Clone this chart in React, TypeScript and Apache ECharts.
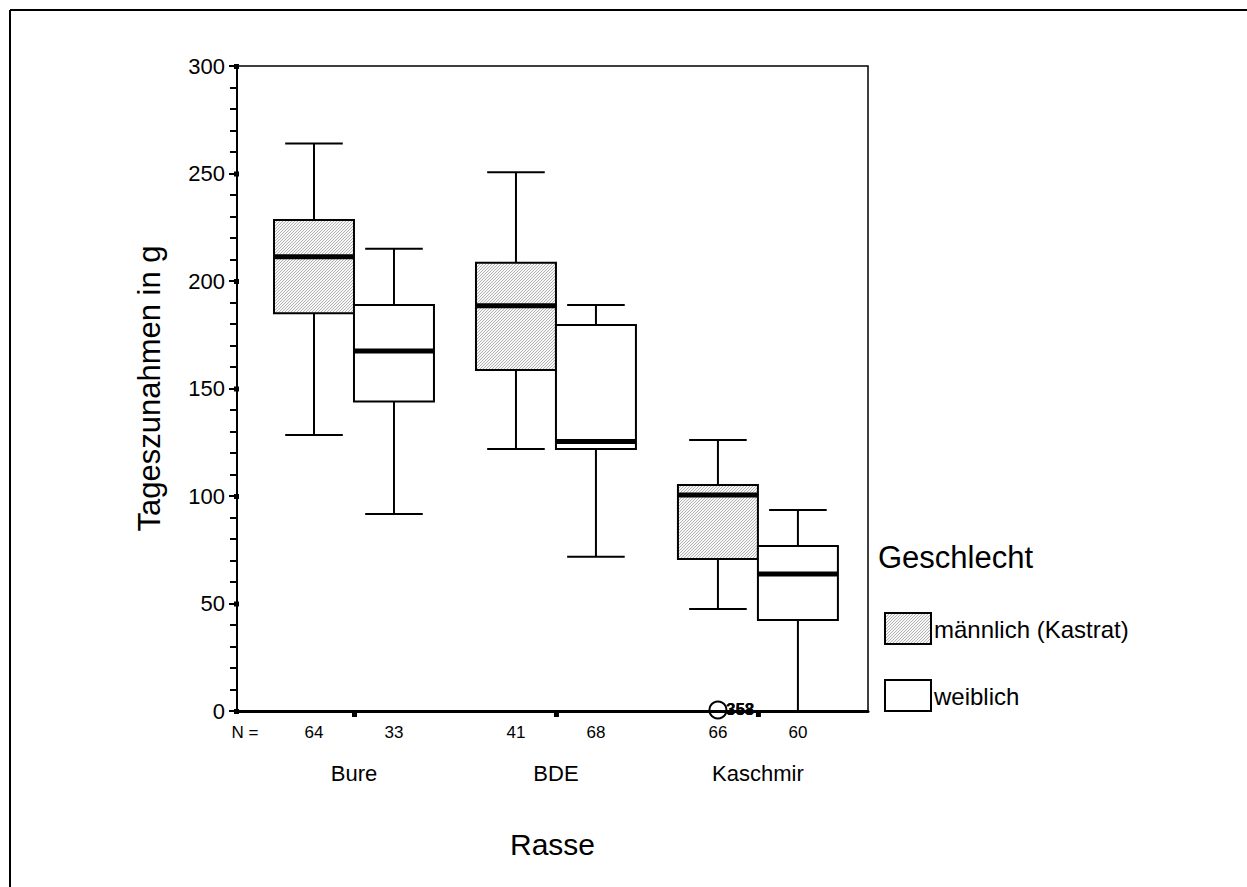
import React, { useEffect, useRef } from "react";
import * as echarts from "echarts";

const categories = ["Bure", "BDE", "Kaschmir"];
const groupNames = ["männlich (Kastrat)", "weiblich"];
// [lower whisker, Q1, median, Q3, upper whisker]
const maleStats = [
  [128.4, 185.0, 211.3, 228.4, 264.0],
  [121.9, 158.6, 188.5, 208.5, 250.6],
  [47.4, 70.7, 100.5, 105.1, 126.0],
];
const femaleStats = [
  [91.6, 143.9, 167.4, 188.8, 215.0],
  [71.8, 121.9, 125.3, 179.5, 188.8],
  [0, 42.3, 63.7, 76.7, 93.5],
];
const maleN = [64, 41, 66];
const femaleN = [33, 68, 60];
const outlierCategory = [2];
const outlierGroup = [0];
const outlierValues = [0];
const outlierLabels = [["358", "353"]];
const yTickValues = [0, 50, 100, 150, 200, 250, 300];
const yMin = 0;
const yMax = 300;
const yInterval = 50;
const xTitle = "Rasse";
const yTitle = "Tageszunahmen in g";
const legendTitle = "Geschlecht";
const nLabel = "N =";

const FONT = '"Liberation Sans", Arial, Helvetica, sans-serif';
const BOX_W = 0.396;

function makeHatch() {
  const c = document.createElement("canvas");
  c.width = 3;
  c.height = 3;
  const ctx = c.getContext("2d")!;
  ctx.fillStyle = "#f6f6f6";
  ctx.fillRect(0, 0, 3, 3);
  ctx.fillStyle = "#b4b4b4";
  for (let i = 0; i < 3; i++) ctx.fillRect(i, 2 - i, 1, 1);
  return c;
}

function txt(text: string, x: number, y: number, size: number, align: string, valign: string, weight = "normal") {
  return {
    type: "text",
    x,
    y,
    silent: true,
    style: {
      text,
      x: 0,
      y: 0,
      font: `${weight} ${size}px ${FONT}`,
      fill: "#000",
      align,
      verticalAlign: valign,
      textAlign: align,
      textVerticalAlign: valign,
    },
  };
}

export default function App() {
  const ref = useRef<HTMLDivElement>(null);
  useEffect(() => {
    if (!ref.current) return;
    const chart = echarts.init(ref.current, null, { renderer: "svg" });
    const hatch = { image: makeHatch(), repeat: "repeat", imageWidth: 3, imageHeight: 3 };

    const boxRender = (groupIdx: number, fill: any) => (params: any, api: any) => {
      const xc = api.value(0) + (groupIdx === 0 ? -BOX_W / 2 : BOX_W / 2);
      const left = api.coord([xc - BOX_W / 2, 0])[0];
      const right = api.coord([xc + BOX_W / 2, 0])[0];
      const cx = (left + right) / 2;
      const capHalf = (right - left) * 0.36;
      const y = (v: number) => api.coord([xc, v])[1];
      const lo = y(api.value(1));
      const q1 = y(api.value(2));
      const med = y(api.value(3));
      const q3 = y(api.value(4));
      const hi = y(api.value(5));
      const axisY = y(yMin);
      const ls = { stroke: "#000", lineWidth: 2 };
      const children: any[] = [
        { type: "line", shape: { x1: cx, y1: hi, x2: cx, y2: q3 }, style: ls },
        { type: "line", shape: { x1: cx, y1: q1, x2: cx, y2: lo }, style: ls },
        { type: "line", shape: { x1: cx - capHalf, y1: hi, x2: cx + capHalf, y2: hi }, style: ls },
        { type: "line", shape: { x1: cx - capHalf, y1: lo, x2: cx + capHalf, y2: lo }, style: ls },
        {
          type: "rect",
          shape: { x: left, y: q3, width: right - left, height: q1 - q3 },
          style: { fill, stroke: "#000", lineWidth: 2 },
        },
        { type: "line", shape: { x1: left, y1: med, x2: right, y2: med }, style: { stroke: "#000", lineWidth: 5 } },
        txt(String(api.value(6)), cx, axisY + 21, 17, "center", "middle"),
      ];
      return { type: "group", children };
    };

    const maleData = categories.map((_, i) => [i + 1, ...maleStats[i], maleN[i]]);
    const femaleData = categories.map((_, i) => [i + 1, ...femaleStats[i], femaleN[i]]);
    const catData = categories.map((c, i) => [i + 1, c]);
    const outData = outlierValues.map((v, i) => [outlierCategory[i] + 1, v, outlierGroup[i], i]);

    chart.setOption({
      animation: false,
      textStyle: { fontFamily: FONT, color: "#000" },
      grid: {
        left: 237,
        top: 66,
        width: 631,
        height: 645,
        show: true,
        borderColor: "#000",
        borderWidth: 1.5,
        backgroundColor: "transparent",
      },
      xAxis: {
        type: "value",
        min: 0.4208,
        max: 3.545,
        axisLine: { show: true, onZero: false, lineStyle: { color: "#000", width: 3 } },
        axisTick: { show: false },
        axisLabel: { show: false },
        splitLine: { show: false },
        name: xTitle,
        nameLocation: "middle",
        nameGap: 118,
        nameTextStyle: { fontSize: 30, color: "#000", fontFamily: FONT },
      },
      yAxis: {
        type: "value",
        min: yMin,
        max: yMax,
        interval: yInterval,
        axisLine: { show: true, lineStyle: { color: "#000", width: 2 } },
        axisTick: { show: true, inside: false, length: 8, lineStyle: { color: "#000", width: 2 } },
        minorTick: { show: true, splitNumber: 5, length: 7, lineStyle: { color: "#000", width: 2 } },
        axisLabel: { fontSize: 22, color: "#000", margin: 12, fontFamily: FONT },
        splitLine: { show: false },
        name: yTitle,
        nameLocation: "middle",
        nameRotate: 90,
        nameGap: 72,
        nameTextStyle: { fontSize: 31, color: "#000", fontFamily: FONT },
      },
      series: [
        {
          type: "custom",
          name: groupNames[0],
          coordinateSystem: "cartesian2d",
          renderItem: boxRender(0, hatch),
          data: maleData,
          clip: false,
          z: 3,
        },
        {
          type: "custom",
          name: groupNames[1],
          coordinateSystem: "cartesian2d",
          renderItem: boxRender(1, "#fff"),
          data: femaleData,
          clip: false,
          z: 3,
        },
        {
          type: "custom",
          coordinateSystem: "cartesian2d",
          clip: false,
          z: 4,
          data: catData,
          renderItem: (params: any, api: any) => {
            const p = api.coord([api.value(0), yMin]);
            return {
              type: "group",
              children: [
                { type: "rect", shape: { x: p[0] - 2, y: p[1] + 1, width: 5, height: 5 }, style: { fill: "#000" } },
                txt(categories[params.dataIndex], p[0], p[1] + 62, 22, "center", "middle"),
              ],
            };
          },
        },
        {
          type: "custom",
          coordinateSystem: "cartesian2d",
          clip: false,
          z: 5,
          data: outData,
          renderItem: (params: any, api: any) => {
            const g = api.value(2);
            const xc = api.value(0) + (g === 0 ? -BOX_W / 2 : BOX_W / 2);
            const p = api.coord([xc, api.value(1)]);
            const labs = outlierLabels[api.value(3)];
            return {
              type: "group",
              children: [
                { type: "circle", shape: { cx: p[0], cy: p[1] - 1, r: 8.5 }, style: { fill: "none", stroke: "#000", lineWidth: 2 } },
                ...labs.map((l: string) => txt(l, p[0] + 8, p[1] - 2, 17, "left", "middle", "bold")),
              ],
            };
          },
        },
        {
          type: "custom",
          coordinateSystem: "cartesian2d",
          clip: false,
          z: 5,
          data: yTickValues.map((v) => [0.4208, v]),
          renderItem: (params: any, api: any) => {
            const p = api.coord([api.value(0), api.value(1)]);
            return { type: "rect", shape: { x: p[0] - 3, y: p[1] - 2, width: 5, height: 5 }, style: { fill: "#000" } };
          },
        },
      ],
      graphic: [
        { type: "line", shape: { x1: 10, y1: 10, x2: 1247, y2: 10 }, style: { stroke: "#000", lineWidth: 2 } },
        { type: "line", shape: { x1: 10, y1: 10, x2: 10, y2: 887 }, style: { stroke: "#000", lineWidth: 2 } },
        txt(nLabel, 245, 732, 17, "center", "middle"),
        txt(legendTitle, 878, 557, 31, "left", "middle"),
        { type: "rect", shape: { x: 885, y: 613, width: 46, height: 31 }, style: { fill: hatch, stroke: "#000", lineWidth: 2 } },
        txt(groupNames[0], 934, 629, 24, "left", "middle"),
        { type: "rect", shape: { x: 885, y: 680, width: 46, height: 31 }, style: { fill: "#fff", stroke: "#000", lineWidth: 2 } },
        txt(groupNames[1], 934, 696, 24, "left", "middle"),
      ],
    });
    return () => chart.dispose();
  }, []);
  return (
    <div
      ref={ref}
      style={{ position: "absolute", left: 0, top: 0, width: 1247, height: 887, background: "#fff" }}
    />
  );
}
